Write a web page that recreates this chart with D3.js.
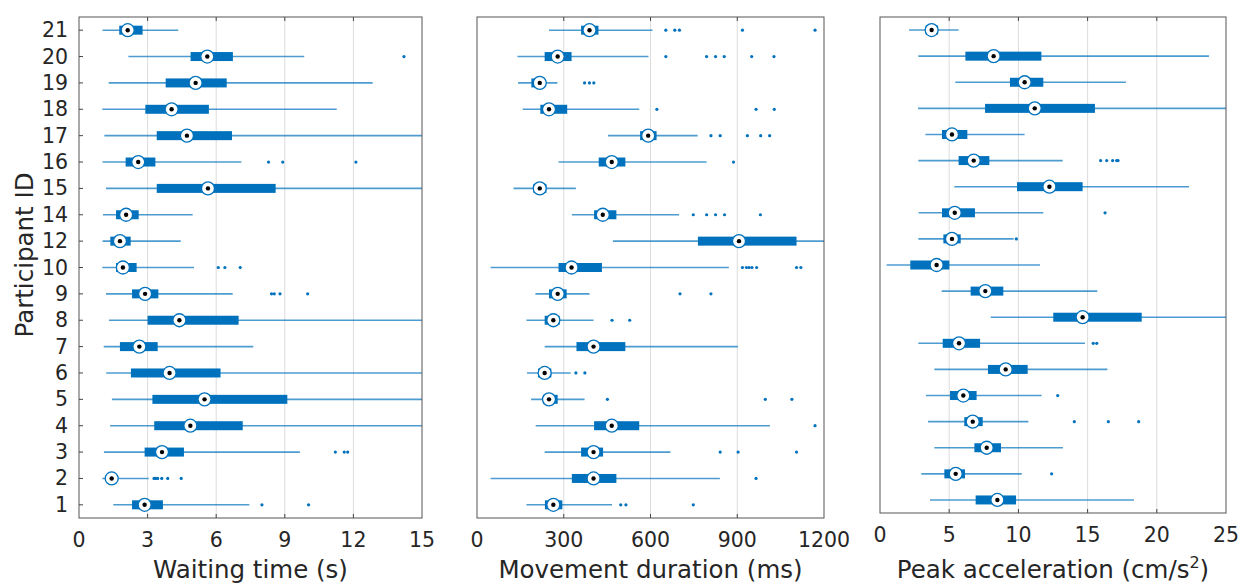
<!DOCTYPE html>
<html>
<head>
<meta charset="utf-8">
<script src="https://cdn.jsdelivr.net/npm/d3@7"></script>
<style>
  html, body { margin: 0; background: #fff; }
  text { font-family: "DejaVu Sans", sans-serif; fill: #262626; }
</style>
</head>
<body>
<svg id="chart" width="1249" height="583"></svg>
<script>
// participant ids, bottom to top
const participants = [1, 2, 3, 4, 5, 6, 7, 8, 9, 10, 12, 14, 15, 16, 17, 18, 19, 20, 21];

// [lower whisker, q1, median, q3, upper whisker] per participant
const waitBoxes = [
  [1.50, 2.32, 2.87, 3.67, 7.45], [1.02, 1.25, 1.43, 1.65, 3.05], [1.09, 2.87, 3.63, 4.59, 9.66],
  [1.36, 3.29, 4.87, 7.16, 16], [1.44, 3.21, 5.49, 9.11, 16], [1.19, 2.27, 3.96, 6.19, 16],
  [1.08, 1.79, 2.64, 3.44, 7.62], [1.31, 3.00, 4.39, 6.98, 16], [1.18, 2.32, 2.89, 3.47, 6.72],
  [1.02, 1.62, 1.92, 2.52, 5.03], [1.03, 1.37, 1.79, 2.26, 4.45], [1.05, 1.62, 2.06, 2.61, 4.97],
  [1.18, 3.40, 5.64, 8.60, 16], [1.03, 2.04, 2.59, 3.34, 7.10], [1.11, 3.40, 4.72, 6.69, 16],
  [1.02, 2.90, 4.05, 5.68, 11.27], [1.30, 3.79, 5.10, 6.46, 12.84], [2.16, 4.88, 5.61, 6.73, 9.85],
  [1.03, 1.76, 2.13, 2.78, 4.34]
];
const waitOutliers = [
  [8.00, 10.04], [3.28, 3.35, 3.44, 3.62, 3.88, 4.47], [11.21, 11.60, 11.75], [], [], [], [], [],
  [8.42, 8.54, 8.79, 10.0], [6.09, 6.38, 7.05], [], [], [], [8.29, 8.91, 12.11], [], [], [], [14.21], []
];

const moveBoxes = [
  [171, 235, 264, 295, 467], [47, 328, 403, 482, 840], [234, 360, 403, 436, 669],
  [203, 405, 466, 561, 1013], [187, 228, 249, 279, 372], [173, 211, 234, 257, 324],
  [234, 344, 403, 513, 902], [171, 234, 264, 286, 403], [202, 249, 279, 310, 389],
  [47, 282, 327, 432, 871], [470, 764, 906, 1105, 1250], [328, 405, 435, 482, 699],
  [126, 195, 217, 240, 342], [282, 421, 466, 513, 794], [453, 564, 592, 621, 763],
  [158, 219, 249, 312, 561], [142, 188, 217, 235, 278], [140, 234, 279, 327, 593],
  [249, 360, 389, 420, 607]
];
const moveOutliers = [
  [497, 515, 748], [965], [841, 903, 1105], [1169], [451, 997, 1089], [342, 373], [], [467, 528],
  [702, 809], [918, 932, 941, 951, 967, 1105, 1120], [], [748, 794, 825, 856, 980], [], [887],
  [809, 841, 935, 981, 1012], [622, 965, 1028], [372, 389, 404], [653, 794, 825, 855, 950, 1027],
  [653, 684, 700, 918, 1169]
];

const accBoxes = [
  [3.61, 6.91, 8.48, 9.83, 18.35], [2.99, 4.65, 5.47, 6.14, 10.24], [3.93, 6.82, 7.71, 8.74, 13.22],
  [3.47, 6.09, 6.70, 7.42, 10.72], [3.32, 5.06, 6.02, 6.98, 11.68], [3.93, 7.80, 9.08, 10.67, 16.43],
  [2.77, 4.53, 5.71, 7.23, 14.81], [8.0, 12.52, 14.64, 18.91, 27], [4.46, 6.55, 7.61, 8.91, 15.70],
  [0.48, 2.19, 4.09, 5.01, 11.56], [2.77, 4.58, 5.20, 5.83, 9.66], [2.79, 4.48, 5.40, 6.86, 11.80],
  [5.37, 9.90, 12.24, 14.64, 22.33], [2.77, 5.68, 6.77, 7.90, 13.20], [3.28, 4.48, 5.20, 6.31, 10.45],
  [2.75, 7.59, 11.18, 15.53, 27], [5.44, 9.39, 10.45, 11.80, 17.77], [2.77, 6.17, 8.21, 11.66, 23.77],
  [2.10, 3.30, 3.73, 4.20, 5.68]
];
const accOutliers = [
  [], [12.40], [], [14.04, 16.50, 18.69], [12.84], [], [15.41, 15.66], [], [], [], [9.85], [16.26],
  [], [15.94, 16.38, 16.81, 17.10, 17.20], [], [], [], [], []
];

const waitTicks = [0, 3, 6, 9, 12, 15];
const moveTicks = [0, 300, 600, 900, 1200];
const accTicks = [0, 5, 10, 15, 20, 25];

const blue = '#0072BD';
const svg = d3.select('#chart');

const panels = [
  { x0: 79, x1: 422, y0: 17, y1: 518, max: 15, ticks: waitTicks, boxes: waitBoxes, outs: waitOutliers, label: 'Waiting time (s)' },
  { x0: 477, x1: 824, y0: 17, y1: 518, max: 1200, ticks: moveTicks, boxes: moveBoxes, outs: moveOutliers, label: 'Movement duration (ms)' },
  { x0: 880, x1: 1226, y0: 17, y1: 513, max: 25, ticks: accTicks, boxes: accBoxes, outs: accOutliers, label: 'Peak acceleration (cm/s' }
];

panels.forEach((p, pi) => {
  const x = d3.scaleLinear().domain([0, p.max]).range([p.x0, p.x1]);
  const y = d3.scaleLinear().domain([0.5, participants.length + 0.5]).range([p.y1, p.y0]);
  const g = svg.append('g');

  g.append('clipPath').attr('id', 'clip' + pi)
    .append('rect').attr('x', p.x0).attr('y', p.y0).attr('width', p.x1 - p.x0).attr('height', p.y1 - p.y0);

  // grid lines
  g.selectAll('.grid').data(p.ticks.slice(1, -1)).enter().append('line')
    .attr('x1', d => x(d)).attr('x2', d => x(d))
    .attr('y1', p.y0).attr('y2', p.y1)
    .attr('stroke', '#dcdcdc').attr('stroke-width', 1);

  // ticks inward at top and bottom
  g.selectAll('.tt').data(p.ticks.slice(1, -1)).enter().append('line')
    .attr('x1', d => x(d)).attr('x2', d => x(d))
    .attr('y1', p.y0).attr('y2', p.y0 + 4)
    .attr('stroke', '#444');
  g.selectAll('.tb').data(p.ticks.slice(1, -1)).enter().append('line')
    .attr('x1', d => x(d)).attr('x2', d => x(d))
    .attr('y1', p.y1).attr('y2', p.y1 - 4)
    .attr('stroke', '#444');

  const rows = g.append('g').attr('clip-path', `url(#clip${pi})`)
    .selectAll('g').data(p.boxes).enter().append('g');

  rows.append('line')
    .attr('x1', d => x(d[0])).attr('x2', d => x(d[4]))
    .attr('y1', (d, i) => y(i + 1)).attr('y2', (d, i) => y(i + 1))
    .attr('stroke', blue).attr('stroke-opacity', 0.7).attr('stroke-width', 1.6);

  rows.append('rect')
    .attr('x', d => x(d[1])).attr('width', d => x(d[3]) - x(d[1]))
    .attr('y', (d, i) => y(i + 1) - 4.5).attr('height', 9)
    .attr('fill', blue);

  rows.selectAll('.out').data((d, i) => p.outs[i].map(v => [v, i])).enter().append('circle')
    .attr('cx', d => x(d[0])).attr('cy', d => y(d[1] + 1))
    .attr('r', 1.6).attr('fill', blue);

  rows.append('circle')
    .attr('cx', d => x(d[2])).attr('cy', (d, i) => y(i + 1))
    .attr('r', 6.5).attr('fill', '#fff').attr('stroke', blue).attr('stroke-width', 1.3);
  rows.append('circle')
    .attr('cx', d => x(d[2])).attr('cy', (d, i) => y(i + 1))
    .attr('r', 2.2).attr('fill', '#000');

  // frame
  g.append('rect').attr('x', p.x0).attr('y', p.y0)
    .attr('width', p.x1 - p.x0).attr('height', p.y1 - p.y0)
    .attr('fill', 'none').attr('stroke', '#555').attr('stroke-width', 1);

  // x tick labels
  g.selectAll('.xl').data(p.ticks).enter().append('text')
    .attr('x', d => x(d)).attr('y', p.y1 + 29)
    .attr('text-anchor', 'middle').style('font-size', '20.5px')
    .text(d => d);

  const lab = g.append('text')
    .attr('x', (p.x0 + p.x1) / 2).attr('y', 578)
    .attr('text-anchor', 'middle').style('font-size', '24.5px')
    .text(p.label);
  if (pi === 2) {
    lab.append('tspan').attr('dy', -10).style('font-size', '16px').text('2');
    lab.append('tspan').attr('dy', 10).text(')');
  }

  if (pi === 0) {
    g.selectAll('.yl').data(participants).enter().append('text')
      .attr('x', 68).attr('y', (d, i) => y(i + 1) + 7)
      .attr('text-anchor', 'end').style('font-size', '20.5px')
      .text(d => d);
    g.selectAll('.yt').data(participants).enter().append('line')
      .attr('x1', p.x0).attr('x2', p.x0 + 4)
      .attr('y1', (d, i) => y(i + 1)).attr('y2', (d, i) => y(i + 1))
      .attr('stroke', '#444');
    g.append('text')
      .attr('transform', 'translate(33,255) rotate(-90)')
      .attr('text-anchor', 'middle').style('font-size', '24.5px')
      .text('Participant ID');
  }
});
</script>
</body>
</html>
